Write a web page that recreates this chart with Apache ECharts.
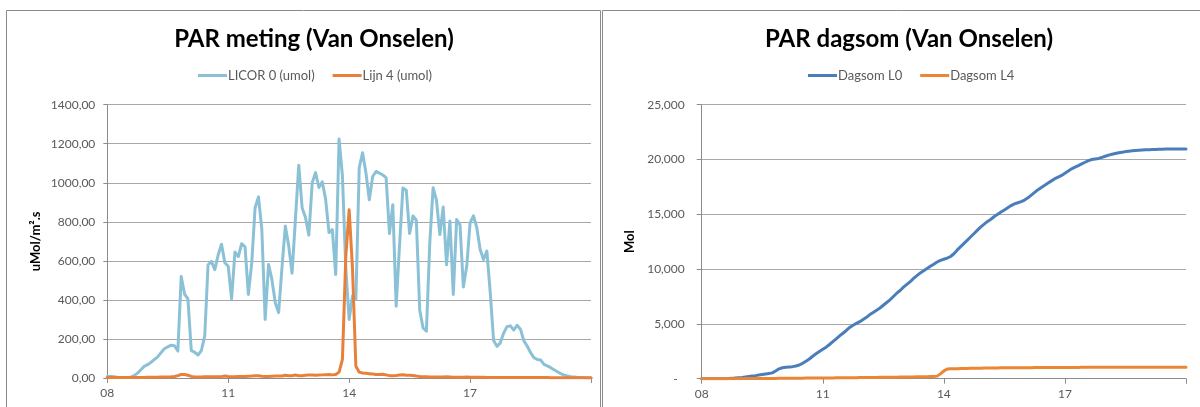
<!DOCTYPE html>
<html>
<head>
<meta charset="utf-8">
<script src="https://cdn.jsdelivr.net/npm/echarts@6/dist/echarts.min.js"></script>
<style>
html,body{margin:0;padding:0;background:#ffffff;}
#chart{width:1200px;height:407px;}
</style>
</head>
<body>
<div id="chart"></div>
<script>
// ---- data (5-minute readings, 08:00 .. 20:00) ----
const startHour = 8, endHour = 20, stepMin = 5;
const times = [];
for (let t = startHour * 60; t <= endHour * 60; t += stepMin) {
  const h = Math.floor(t / 60), m = t % 60;
  times.push((h < 10 ? '0' : '') + h + ':' + (m < 10 ? '0' : '') + m);
}
const xTickLabels = ['08', '11', '14', '17'];

const licor0 = [
  8,8,6,4,3,3,3,4,12,25,
  42,60,68,80,95,108,130,150,160,168,
  165,138,520,430,405,140,132,118,140,215,
  580,597,555,630,685,590,572,405,645,622,
  688,672,428,590,872,928,762,300,582,505,
  386,335,565,778,677,537,813,1090,872,822,
  732,1000,1052,976,1005,915,745,760,530,1224,
  1036,560,300,420,403,1078,1154,1050,913,1032,
  1058,1050,1040,1026,740,888,368,680,973,962,
  740,830,808,350,256,240,690,975,910,735,
  876,580,804,428,812,786,466,572,795,831,
  770,658,607,650,438,192,162,180,230,263,
  267,246,270,250,190,164,130,104,95,92,
  70,62,53,42,32,22,15,10,7,5,
  3,2,1,0,0
];
const lijn4 = [
  2,2,2,2,2,2,2,3,3,3,
  3,3,4,4,4,4,5,5,5,6,
  8,12,18,18,14,8,5,5,5,6,
  6,6,6,7,7,10,8,7,7,8,
  8,8,9,10,12,11,9,8,8,9,
  10,10,10,14,12,12,15,12,12,14,
  16,15,14,15,16,17,18,16,18,30,
  95,620,862,560,60,30,26,24,22,20,
  18,18,19,16,12,12,13,15,17,14,
  14,13,10,8,7,6,5,5,5,5,
  5,6,5,4,4,4,4,5,4,4,
  4,4,4,3,3,3,3,3,3,3,
  3,3,2,2,2,2,2,2,2,2,
  2,2,1,1,1,1,1,1,1,1,
  1,1,1,1,1
];
const dagsomL0 = [
  0,0,0,0,0,0,0,0,10,30,
  60,90,120,160,200,240,280,330,380,430,
  480,530,700,900,1000,1040,1070,1100,1160,1250,
  1400,1600,1800,2050,2280,2480,2680,2880,3120,3380,
  3640,3900,4150,4400,4680,4880,5050,5200,5400,5600,
  5850,6050,6250,6450,6700,6950,7200,7500,7800,8050,
  8350,8600,8850,9150,9400,9650,9850,10050,10250,10450,
  10650,10800,10900,11000,11150,11400,11750,12050,12350,12650,
  12950,13250,13550,13850,14100,14350,14550,14800,15000,15200,
  15400,15600,15800,15950,16050,16150,16300,16500,16750,17000,
  17250,17450,17650,17850,18050,18250,18400,18550,18750,18950,
  19150,19300,19450,19600,19750,19900,20000,20050,20100,20200,
  20300,20400,20480,20550,20620,20670,20720,20760,20790,20820,
  20840,20860,20880,20900,20910,20920,20930,20940,20950,20950,
  20950,20950,20950,20950,20950
];
const dagsomL4 = [
  0,0,0,0,0,0,0,1,2,3,
  4,5,6,8,9,10,12,13,15,17,
  19,23,29,35,39,42,44,46,48,50,
  52,54,56,58,61,64,67,69,71,74,
  77,80,83,86,90,94,97,100,103,106,
  110,113,116,121,125,129,134,138,142,147,
  152,157,161,166,171,177,183,188,194,204,
  235,440,720,880,900,910,918,926,933,940,
  946,952,958,964,968,972,976,980,984,988,
  992,995,998,1000,1002,1004,1006,1008,1010,1012,
  1014,1016,1018,1020,1022,1024,1025,1027,1029,1030,
  1031,1032,1033,1034,1035,1036,1037,1037,1038,1038,
  1039,1039,1040,1040,1041,1041,1041,1042,1042,1042,
  1043,1043,1043,1043,1043,1044,1044,1044,1044,1044,
  1044,1044,1044,1044,1044
];

// ---- styling ----
const FONT = 'Lato, "Open Sans", sans-serif';
const labelColor = '#595959';
const gridColor = '#a8a8a8';
const axisColor = '#8c8c8c';
const labelStep = 36; // 3 hours of 5-minute steps

function xAxisFor(gridIndex) {
  return {
    type: 'category', gridIndex: gridIndex, data: times, boundaryGap: false,
    axisLine: { lineStyle: { color: axisColor, width: 1 } },
    axisTick: { show: true, length: 5, lineStyle: { color: axisColor },
      interval: function (i) { return i % labelStep === 0; } },
    axisLabel: { color: labelColor, fontFamily: FONT, fontSize: 12, margin: 9,
      interval: function (i) { return i % labelStep === 0 && i < times.length - 1; },
      formatter: function (v) { return xTickLabels[xTickLabels.indexOf(v.slice(0, 2))] || v.slice(0, 2); } },
    splitLine: { show: false }
  };
}

const chart = echarts.init(document.getElementById('chart'), null, { renderer: 'canvas' });
chart.setOption({
  backgroundColor: '#ffffff',
  animation: false,
  textStyle: { fontFamily: FONT },
  graphic: [
    { type: 'rect', silent: true, z: -10, shape: { x: 6.5, y: 10.5, width: 594, height: 430 },
      style: { fill: null, stroke: '#8a8a8a', lineWidth: 1 } },
    { type: 'rect', silent: true, z: -10, shape: { x: 602.5, y: 10.5, width: 640, height: 430 },
      style: { fill: null, stroke: '#8a8a8a', lineWidth: 1 } }
  ],
  title: [
    { text: 'PAR meting (Van Onselen)', left: 309, top: 22, textAlign: 'center',
      textStyle: { fontFamily: FONT, fontWeight: 'bold', fontSize: 24, color: '#000000' } },
    { text: 'PAR dagsom (Van Onselen)', left: 904, top: 22, textAlign: 'center',
      textStyle: { fontFamily: FONT, fontWeight: 'bold', fontSize: 24, color: '#000000' } }
  ],
  legend: [
    { left: 193, top: 64, icon: 'rect', itemWidth: 29, itemHeight: 3, itemGap: 18,
      data: ['LICOR 0 (umol)', 'Lijn 4 (umol)'],
      textStyle: { color: labelColor, fontFamily: FONT, fontSize: 13, padding: [0, 0, 0, -4] } },
    { left: 803, top: 64, icon: 'rect', itemWidth: 29, itemHeight: 3, itemGap: 18,
      data: ['Dagsom L0', 'Dagsom L4'],
      textStyle: { color: labelColor, fontFamily: FONT, fontSize: 13, padding: [0, 0, 0, -4] } }
  ],
  grid: [
    { left: 107.3, top: 104.7, width: 483.7, height: 273.3, containLabel: false },
    { left: 701.7, top: 104.7, width: 484.3, height: 274, containLabel: false }
  ],
  xAxis: [xAxisFor(0), xAxisFor(1)],
  yAxis: [
    { type: 'value', gridIndex: 0, min: 0, max: 1400, interval: 200,
      name: 'uMol/m².s', nameLocation: 'middle', nameGap: 65,
      nameTextStyle: { fontFamily: FONT, fontWeight: 'bold', fontSize: 13, color: '#000000' },
      axisLine: { show: true, lineStyle: { color: axisColor } },
      axisTick: { show: true, length: 4, lineStyle: { color: axisColor } },
      axisLabel: { color: labelColor, fontFamily: FONT, fontSize: 12, margin: 12,
        formatter: function (v) { return v.toFixed(2).replace('.', ','); } },
      splitLine: { lineStyle: { color: gridColor, width: 1 } } },
    { type: 'value', gridIndex: 1, min: 0, max: 25000, interval: 5000,
      name: 'Mol', nameLocation: 'middle', nameGap: 65,
      nameTextStyle: { fontFamily: FONT, fontWeight: 'bold', fontSize: 13, color: '#000000' },
      axisLine: { show: true, lineStyle: { color: axisColor } },
      axisTick: { show: true, length: 5, lineStyle: { color: axisColor } },
      axisLabel: { color: labelColor, fontFamily: FONT, fontSize: 12, margin: 17,
        formatter: function (v) { return v === 0 ? '{d|-}' : v.toLocaleString('en-US'); },
        rich: { d: { color: labelColor, fontFamily: FONT, fontSize: 12, padding: [0, 7, 0, 0] } } },
      splitLine: { lineStyle: { color: gridColor, width: 1 } } }
  ],
  series: [
    { name: 'LICOR 0 (umol)', type: 'line', xAxisIndex: 0, yAxisIndex: 0, data: licor0,
      showSymbol: false, symbol: 'none', color: '#8BC1D6',
      lineStyle: { width: 3, color: '#8BC1D6', cap: 'round', join: 'round' } },
    { name: 'Lijn 4 (umol)', type: 'line', xAxisIndex: 0, yAxisIndex: 0, data: lijn4,
      showSymbol: false, symbol: 'none', color: '#E8803A',
      lineStyle: { width: 3, color: '#E8803A', cap: 'round', join: 'round' } },
    { name: 'Dagsom L0', type: 'line', xAxisIndex: 1, yAxisIndex: 1, data: dagsomL0,
      showSymbol: false, symbol: 'none', color: '#4A7EBB',
      lineStyle: { width: 3, color: '#4A7EBB', cap: 'round', join: 'round' } },
    { name: 'Dagsom L4', type: 'line', xAxisIndex: 1, yAxisIndex: 1, data: dagsomL4,
      showSymbol: false, symbol: 'none', color: '#EC8633',
      lineStyle: { width: 3, color: '#EC8633', cap: 'round', join: 'round' } }
  ]
});
</script>
</body>
</html>
